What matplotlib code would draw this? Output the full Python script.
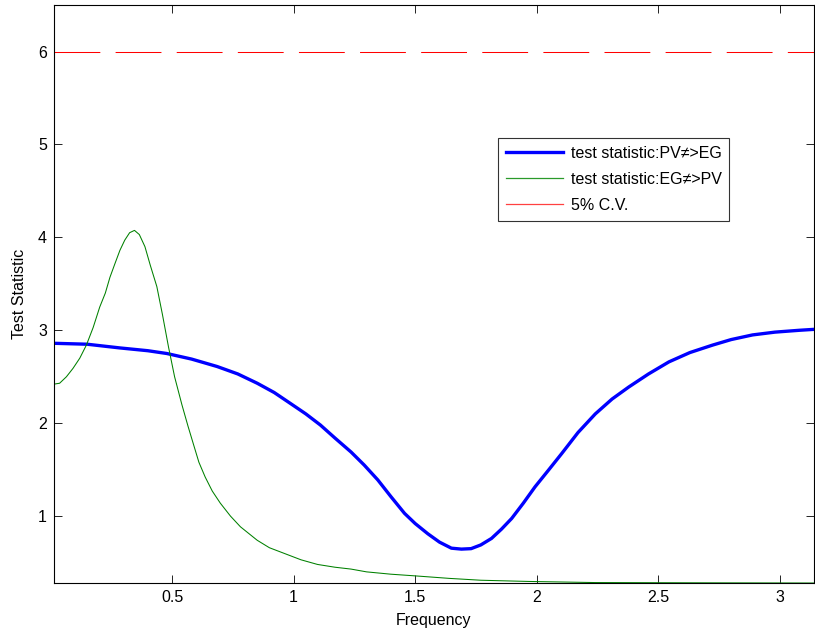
import numpy as np
import matplotlib
matplotlib.use("Agg")
from matplotlib import pyplot as plt
from matplotlib.lines import Line2D

plt.rcParams['font.family'] = ['Liberation Sans', 'DejaVu Sans']
plt.rcParams['lines.scale_dashes'] = False

# frequency grid and statistics (PV -> EG direction)
freq_pv = [0.013, 0.15, 0.285, 0.40, 0.478, 0.58, 0.685, 0.77, 0.85, 0.92,
           0.988, 1.05, 1.11, 1.17, 1.236, 1.29, 1.346, 1.40, 1.456, 1.50,
           1.552, 1.60, 1.649, 1.69, 1.73, 1.77, 1.814, 1.855, 1.897, 1.945,
           1.993, 2.05, 2.103, 2.17, 2.241, 2.31, 2.379, 2.46, 2.544, 2.63,
           2.723, 2.80, 2.888, 2.98, 3.081, 3.1416]
stat_pv = [2.86, 2.85, 2.81, 2.78, 2.75, 2.69, 2.61, 2.53, 2.43, 2.33,
           2.21, 2.10, 1.98, 1.84, 1.69, 1.55, 1.39, 1.21, 1.03, 0.92,
           0.81, 0.72, 0.655, 0.645, 0.65, 0.69, 0.76, 0.86, 0.975, 1.14,
           1.315, 1.50, 1.674, 1.90, 2.10, 2.26, 2.39, 2.53, 2.66, 2.76,
           2.84, 2.90, 2.95, 2.98, 3.00, 3.01]

# EG -> PV direction
freq_eg = [0.013, 0.037, 0.065, 0.092, 0.12, 0.147, 0.175, 0.202, 0.225, 0.244,
           0.265, 0.285, 0.305, 0.325, 0.345, 0.365, 0.388, 0.41, 0.437, 0.46,
           0.485, 0.51, 0.54, 0.565, 0.588, 0.61, 0.636, 0.665, 0.698, 0.74,
           0.781, 0.85, 0.90, 0.96, 1.03, 1.098, 1.17, 1.236, 1.30, 1.40,
           1.51, 1.64, 1.77, 1.966, 2.24, 2.7, 3.1416]
stat_eg = [2.42, 2.43, 2.50, 2.59, 2.70, 2.84, 3.03, 3.25, 3.40, 3.57,
           3.72, 3.86, 3.97, 4.05, 4.075, 4.03, 3.90, 3.70, 3.47, 3.17,
           2.82, 2.50, 2.20, 1.97, 1.77, 1.58, 1.42, 1.27, 1.14, 1.00,
           0.885, 0.74, 0.66, 0.60, 0.53, 0.48, 0.45, 0.43, 0.40, 0.375,
           0.355, 0.33, 0.31, 0.297, 0.285, 0.282, 0.28]

crit_val = 6.0
xtick_vals = [0.5, 1, 1.5, 2, 2.5, 3]
xtick_labels = ['0.5', '1', '1.5', '2', '2.5', '3']
ytick_vals = [1, 2, 3, 4, 5, 6]
labels = ['test statistic:PV\u2260>EG', 'test statistic:EG\u2260>PV', '5% C.V.']

fig = plt.figure(figsize=(8.15, 6.39), dpi=100)
ax = fig.add_axes([0.066, 0.0876, 0.933, 0.9045])

ax.plot(freq_pv, stat_pv, color='#0000ff', lw=2.4)
ax.plot(freq_eg, stat_eg, color='#008000', lw=0.75)
ax.axhline(crit_val, color='#ff0000', lw=0.75, dashes=(33, 11))

ax.set_xlim(0.013, np.pi)
ax.set_ylim(0.28, 6.5)
ax.set_xticks(xtick_vals)
ax.set_xticklabels(xtick_labels)
ax.set_yticks(ytick_vals)
ax.tick_params(direction='in', length=5.5, width=0.6, top=True, right=True,
               labelsize=11.5, pad=5)
for s in ax.spines.values():
    s.set_linewidth(0.8)

ax.set_xlabel('Frequency', fontsize=11.5, labelpad=6)
ax.set_ylabel('Test Statistic', fontsize=11.5, labelpad=8)

# legend handles drawn solid, like the plot's key
handles = [Line2D([], [], color='#0000ff', lw=2.4),
           Line2D([], [], color='#2a9a2a', lw=0.9),
           Line2D([], [], color='#ff4040', lw=0.9)]
leg = ax.legend(handles, labels, loc='upper left', bbox_to_anchor=(0.584, 0.770),
                fontsize=11.5, frameon=True, fancybox=False, shadow=False,
                handlelength=3.6, handletextpad=0.45, labelspacing=0.68,
                borderpad=0.5, borderaxespad=0)
leg.get_frame().set_edgecolor('black')
leg.get_frame().set_linewidth(0.8)

fig.savefig('out.png', dpi=100)
